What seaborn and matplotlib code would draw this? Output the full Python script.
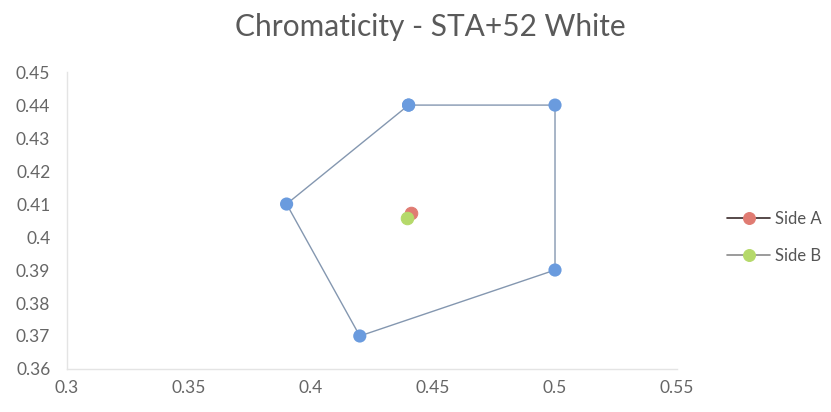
import matplotlib
matplotlib.use("Agg")
import matplotlib.pyplot as plt
import seaborn as sns
import pandas as pd

# Data
boundary_x = [0.44, 0.50, 0.50, 0.42, 0.39, 0.44]
boundary_y = [0.44, 0.44, 0.39, 0.37, 0.41, 0.44]
side_a_x = [0.441]
side_a_y = [0.4073]
side_b_x = [0.4395]
side_b_y = [0.4058]
x_ticks = [0.3, 0.35, 0.4, 0.45, 0.5, 0.55]
x_tick_labels = ["0.3", "0.35", "0.4", "0.45", "0.5", "0.55"]
y_ticks = [0.36, 0.37, 0.38, 0.39, 0.40, 0.41, 0.42, 0.43, 0.44, 0.45]
y_tick_labels = ["0.36", "0.37", "0.38", "0.39", "0.4", "0.41", "0.42", "0.43", "0.44", "0.45"]

sns.set_theme(style="white")
plt.rcParams['font.family'] = ['Lato', 'DejaVu Sans']

fig = plt.figure(figsize=(8.31, 4.12), dpi=100)
ax = fig.add_axes([0.0806, 0.1044, 0.7341, 0.7206])

bdf = pd.DataFrame({"x": boundary_x, "y": boundary_y})
sns.lineplot(data=bdf, x="x", y="y", sort=False, estimator=None, ax=ax,
             color="#8497B0", linewidth=1.0, legend=False)
sns.scatterplot(data=bdf, x="x", y="y", ax=ax, color="#6A9BDE", s=90,
                edgecolor="none", legend=False, zorder=3)

adf = pd.DataFrame({"x": side_a_x, "y": side_a_y})
bdf2 = pd.DataFrame({"x": side_b_x, "y": side_b_y})
sns.lineplot(data=adf, x="x", y="y", ax=ax, color="#3a2a2a", linewidth=1.2,
             marker="o", markersize=9, markerfacecolor="#E07B72",
             markeredgecolor="#E07B72", label="Side A", zorder=4)
sns.lineplot(data=bdf2, x="x", y="y", ax=ax, color="#8a8a8a", linewidth=1.2,
             marker="o", markersize=9, markerfacecolor="#B5D96A",
             markeredgecolor="#B5D96A", label="Side B", zorder=5)

ax.set_xlim(0.3, 0.55)
ax.set_ylim(0.36, 0.45)
ax.set_xticks(x_ticks)
ax.set_xticklabels(x_tick_labels)
ax.set_yticks(y_ticks)
ax.set_yticklabels(y_tick_labels)
ax.set_xlabel("")
ax.set_ylabel("")
ax.tick_params(axis="both", labelsize=12.5, labelcolor="#666666", length=0)
ax.tick_params(axis="y", pad=12)
ax.tick_params(axis="x", pad=8)

for s in ["top", "right"]:
    ax.spines[s].set_visible(False)
for s in ["left", "bottom"]:
    ax.spines[s].set_color("#E4E4E4")
    ax.spines[s].set_linewidth(1.0)

ax.set_title("Chromaticity - STA+52 White", fontsize=21.5, color="#5a5a5a",
             pad=26, x=0.595)

leg = ax.legend(loc="center left", bbox_to_anchor=(1.082, 0.444), frameon=False,
                fontsize=12, handlelength=2.6, handletextpad=0.3, labelspacing=1.28,
                borderpad=0, borderaxespad=0, markerscale=0.95)
for t in leg.get_texts():
    t.set_color("#555555")

fig.savefig("out.png", dpi=100)
